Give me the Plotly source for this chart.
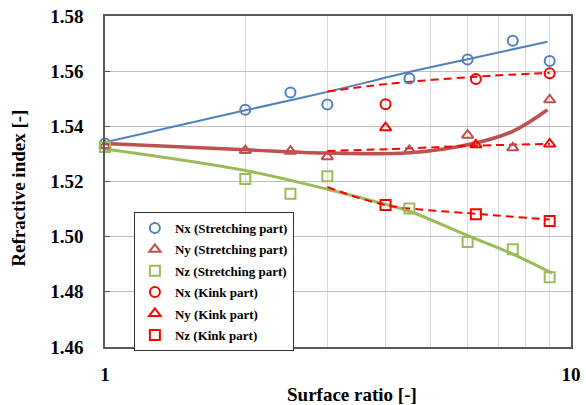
import plotly.graph_objects as go

# ---- data ----
x_stretch = [1, 2, 2.5, 3, 4.5, 6, 7.5, 9]
nx_stretch = [1.5338, 1.5460, 1.5523, 1.5479, 1.5573, 1.5642, 1.5710, 1.5637]
ny_stretch = [1.5330, 1.5312, 1.5310, 1.5290, 1.5313, 1.5368, 1.5322, 1.5496]
nz_stretch = [1.5325, 1.5209, 1.5156, 1.5219, 1.5102, 1.4981, 1.4954, 1.4853]

x_kink = [4, 6.25, 9]
nx_kink = [1.5480, 1.5572, 1.5592]
ny_kink = [1.5395, 1.5333, 1.5336]
nz_kink = [1.5115, 1.5081, 1.5057]

# trend curves
nx_fit_x = [1, 2, 3, 4.5, 6, 8.9]
nx_fit_y = [1.5342, 1.5458, 1.5525, 1.5597, 1.5643, 1.5707]
ny_fit_x = [1, 2, 3, 4.5, 6, 7.5, 8.9]
ny_fit_y = [1.5338, 1.5315, 1.5303, 1.5304, 1.5333, 1.5382, 1.5460]
nz_fit_x = [1, 2, 3, 4, 4.5, 6, 7.5, 9.1]
nz_fit_y = [1.5318, 1.5240, 1.5172, 1.5117, 1.5092, 1.5004, 1.4937, 1.4868]

kink_fit_x = [3, 4, 6.25, 9]
nx_kfit_y = [1.5526, 1.5553, 1.5580, 1.5594]
ny_kfit_y = [1.5311, 1.5317, 1.5330, 1.5336]
nz_kfit_y = [1.5180, 1.5115, 1.5083, 1.5062]

x_ticks = [1, 2, 3, 4, 5, 6, 7, 8, 9, 10]
x_ticktext = ["1", "", "", "", "", "", "", "", "", "10"]
y_ticks = [1.46, 1.48, 1.50, 1.52, 1.54, 1.56, 1.58]

BLUE = "#4F81BD"
BROWN = "#C0504D"
GREEN = "#9BBB59"
RED = "#FF0000"
FONT = "Liberation Serif"

fig = go.Figure()

# trend lines
fig.add_trace(go.Scatter(x=nx_fit_x, y=nx_fit_y, mode="lines", line=dict(color=BLUE, width=2, shape="spline"),
                         showlegend=False, hoverinfo="skip"))
fig.add_trace(go.Scatter(x=ny_fit_x, y=ny_fit_y, mode="lines", line=dict(color=BROWN, width=3.5, shape="spline"),
                         showlegend=False, hoverinfo="skip"))
fig.add_trace(go.Scatter(x=nz_fit_x, y=nz_fit_y, mode="lines", line=dict(color=GREEN, width=3, shape="spline"),
                         showlegend=False, hoverinfo="skip"))
for yk in (nx_kfit_y, ny_kfit_y, nz_kfit_y):
    fig.add_trace(go.Scatter(x=kink_fit_x, y=yk, mode="lines",
                             line=dict(color=RED, width=2, dash="8px,5px", shape="spline"),
                             showlegend=False, hoverinfo="skip"))

# markers
def mk(x, y, name, color, symbol):
    fig.add_trace(go.Scatter(x=x, y=y, mode="markers", name=name, cliponaxis=False,
                             legendgroup=name,
                             marker=dict(symbol=symbol, size=10, color=color,
                                         line=dict(color=color, width=2))))

mk(x_stretch, nx_stretch, "Nx (Stretching part)", BLUE, "circle-open")
mk(x_stretch, ny_stretch, "Ny (Stretching part)", BROWN, "triangle-up-open")
mk(x_stretch, nz_stretch, "Nz (Stretching part)", GREEN, "square-open")
mk(x_kink, nx_kink, "Nx (Kink part)", RED, "circle-open")
mk(x_kink, ny_kink, "Ny (Kink part)", RED, "triangle-up-open")
mk(x_kink, nz_kink, "Nz (Kink part)", RED, "square-open")

fig.update_layout(
    width=586, height=405,
    margin=dict(l=105, r=15, t=16, b=58, autoexpand=False),
    paper_bgcolor="white", plot_bgcolor="white",
    font=dict(family=FONT, size=18, color="black", weight="bold"),
    showlegend=True,
    legend=dict(x=0.062, y=0.408, xanchor="left", yanchor="top",
                bgcolor="white", bordercolor="#333333", borderwidth=1,
                font=dict(family=FONT, size=13, color="black", weight="bold"),
                itemwidth=30, tracegroupgap=1.5, traceorder="grouped"),
    annotations=[
        dict(text="Surface ratio [-]", xref="paper", yref="paper", x=0.53, y=-0.143,
             xanchor="center", yanchor="middle", showarrow=False,
             font=dict(family=FONT, size=19, color="black", weight="bold")),
        dict(text="Refractive index [-]", xref="paper", yref="paper", x=-0.186, y=0.479,
             xanchor="center", yanchor="middle", showarrow=False, textangle=-90,
             font=dict(family=FONT, size=19, color="black", weight="bold")),
    ],
)

fig.update_xaxes(type="log", range=[0, 1], tickvals=x_ticks, ticktext=x_ticktext,
                 showgrid=True, gridcolor="#d9d9d9", gridwidth=1, automargin=False,
                 showline=True, linecolor="#595959", linewidth=1.5, mirror=True,
                 ticks="", ticklabelstandoff=9, zeroline=False, ticklabeloverflow="allow",
                 tickfont=dict(family=FONT, size=19, color="black", weight="bold"))
fig.update_yaxes(range=[1.46, 1.58], tickvals=y_ticks, tickformat=".2f",
                 showgrid=True, gridcolor="#bfbfbf", gridwidth=1, automargin=False,
                 showline=True, linecolor="#595959", linewidth=1.5, mirror=True,
                 ticks="inside", ticklen=5, tickcolor="#595959", ticklabelstandoff=16,
                 zeroline=False, ticklabeloverflow="allow",
                 tickfont=dict(family=FONT, size=19, color="black", weight="bold"))

# remove the browser's default 8px body margin so the figure fills the window
fig.write_html("out.html", config={"displayModeBar": False},
               post_script="document.body.style.margin='0';")
